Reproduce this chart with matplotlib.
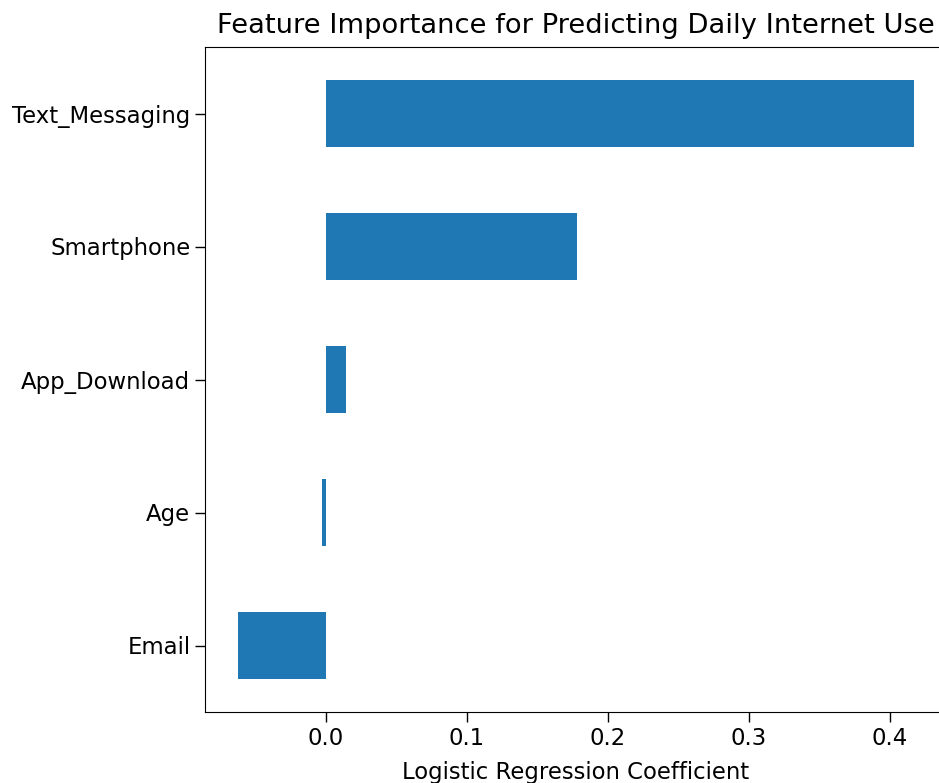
import matplotlib
matplotlib.use("Agg")
from matplotlib import pyplot as plt
import numpy as np

features = ["Email", "Age", "App_Download", "Smartphone", "Text_Messaging"]
coefs = [-0.0625, -0.0025, 0.014, 0.178, 0.417]
ticks = [0.0, 0.1, 0.2, 0.3, 0.4]

fig = plt.figure(figsize=(9.39, 7.83), dpi=100)
# the axes run slightly past the right edge of the picture, as in the reference
ax = fig.add_axes([205 / 939, 1 - 712 / 783, 741 / 939, 665 / 783])

y = np.arange(len(features))
ax.barh(y, coefs, height=0.5, color="#1f77b4")
ax.set_yticks(y)
ax.set_yticklabels(features, fontsize=16.4)
ax.set_xticks(ticks)
ax.set_xticklabels([f"{t:.1f}" for t in ticks], fontsize=16.4)
ax.set_ylim(-0.5, 4.5)
ax.set_xlim(-0.0858, 0.4397)
ax.set_xlabel("Logistic Regression Coefficient", fontsize=16.4, labelpad=8)
ax.set_title("Feature Importance for Predicting Daily Internet Use", fontsize=19.7, pad=10)
ax.tick_params(length=7, width=1)

fig.savefig("out.png", dpi=100)
